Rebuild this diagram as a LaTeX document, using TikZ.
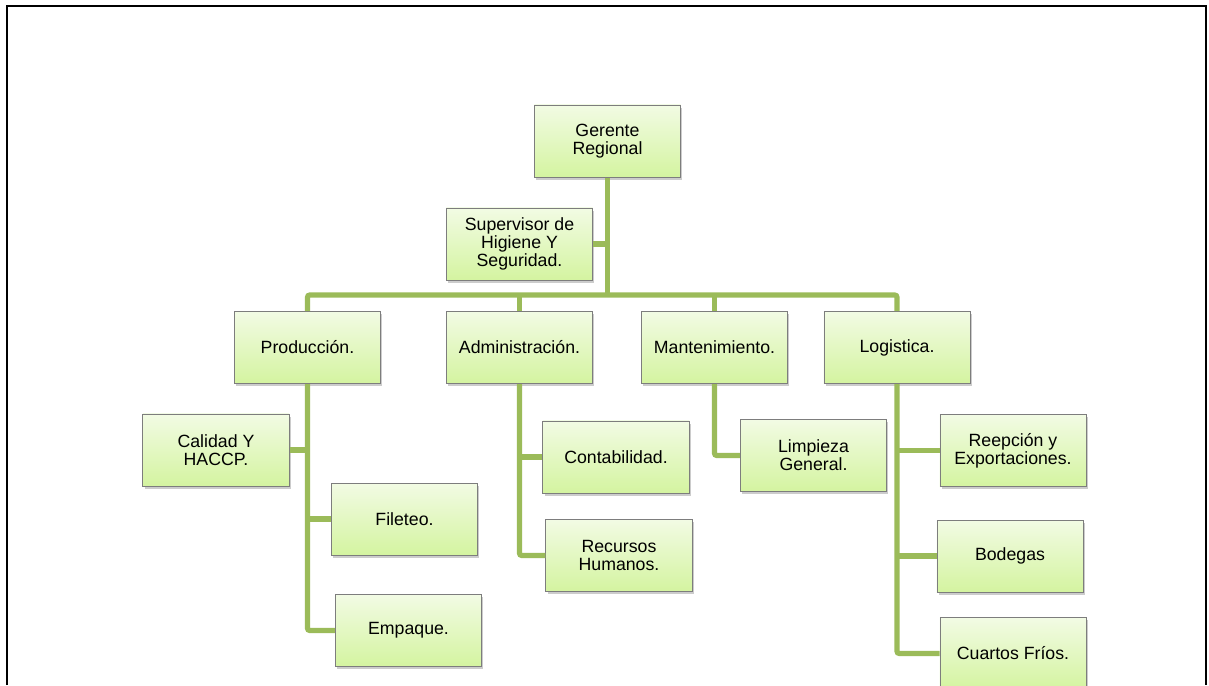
\documentclass[tikz,border=0pt]{standalone}
\usepackage{fontspec}
\setmainfont{Liberation Sans}
\usepackage{tikz}
\usetikzlibrary{shadows}
\definecolor{linegreen}{RGB}{155,187,89}
\definecolor{boxtop}{RGB}{242,251,228}
\definecolor{boxbottom}{RGB}{212,244,160}
\definecolor{boxline}{RGB}{125,125,125}

\begin{document}
\begin{tikzpicture}[x=0.025cm,y=-0.025cm,
  puesto/.style={draw=boxline,line width=0.7pt,top color=boxtop,bottom color=boxbottom,
    minimum width=3.65cm,minimum height=1.8cm,align=center,inner sep=1pt,
    font=\fontsize{12.6}{12.9}\selectfont,
    drop shadow={opacity=0.4,shadow xshift=1.4pt,shadow yshift=-1.8pt}},
  rama/.style={draw=linegreen,line width=3.6pt,rounded corners=1.5pt}]
\useasboundingbox (0,0) rectangle (1209,685);
\draw[line width=1.5pt](7,685) -- (7,6) -- (1206,6) -- (1206,685);
\coordinate (bus) at (607,295);
\node[puesto] (ger) at (607.5,141) {Gerente\\Regional};
\node[puesto] (sup) at (519.5,244) {Supervisor de\\Higiene Y\\Seguridad.};
\node[puesto] (prod) at (307.5,347.5) {Producción.};
\node[puesto] (adm) at (519.5,347.5) {Administración.};
\node[puesto] (man) at (714.5,347.5) {Mantenimiento.};
\node[puesto] (log) at (897,347.5) {Logistica.};
\node[puesto] (cal) at (216,450) {Calidad Y\\HACCP.};
\node[puesto] (fil) at (404.5,519) {Fileteo.};
\node[puesto] (emp) at (408.5,630.5) {Empaque.};
\node[puesto] (con) at (616,457) {Contabilidad.};
\node[puesto] (rrhh) at (619,555.5) {Recursos\\Humanos.};
\node[puesto] (lim) at (813.5,455.5) {Limpieza\\General.};
\node[puesto] (ree) at (1013,450.5) {Reepción y\\Exportaciones.};
\node[puesto] (bod) at (1010,556) {Bodegas};
\node[puesto] (cua) at (1013,653.5) {Cuartos Fríos.};
\draw[rama](ger.south) -- (ger.south |- bus);
\draw[rama](sup.east) -- (sup.east -| ger.south);
\draw[rama](prod.north) -- (prod.north |- bus) -- (log.north |- bus) -- (log.north);
\draw[rama](adm.north) -- (adm.north |- bus);
\draw[rama](man.north) -- (man.north |- bus);
\draw[rama](prod.south) -- (prod.south |- emp.west) -- (emp.west);
\draw[rama](cal.east) -- (cal.east -| prod.south);
\draw[rama](fil.west) -- (fil.west -| prod.south);
\draw[rama](adm.south) -- (adm.south |- rrhh.west) -- (rrhh.west);
\draw[rama](con.west) -- (con.west -| adm.south);
\draw[rama](man.south) -- (man.south |- lim.west) -- (lim.west);
\draw[rama](log.south) -- (log.south |- cua.west) -- (cua.west);
\draw[rama](ree.west) -- (ree.west -| log.south);
\draw[rama](bod.west) -- (bod.west -| log.south);
\end{tikzpicture}
\end{document}
